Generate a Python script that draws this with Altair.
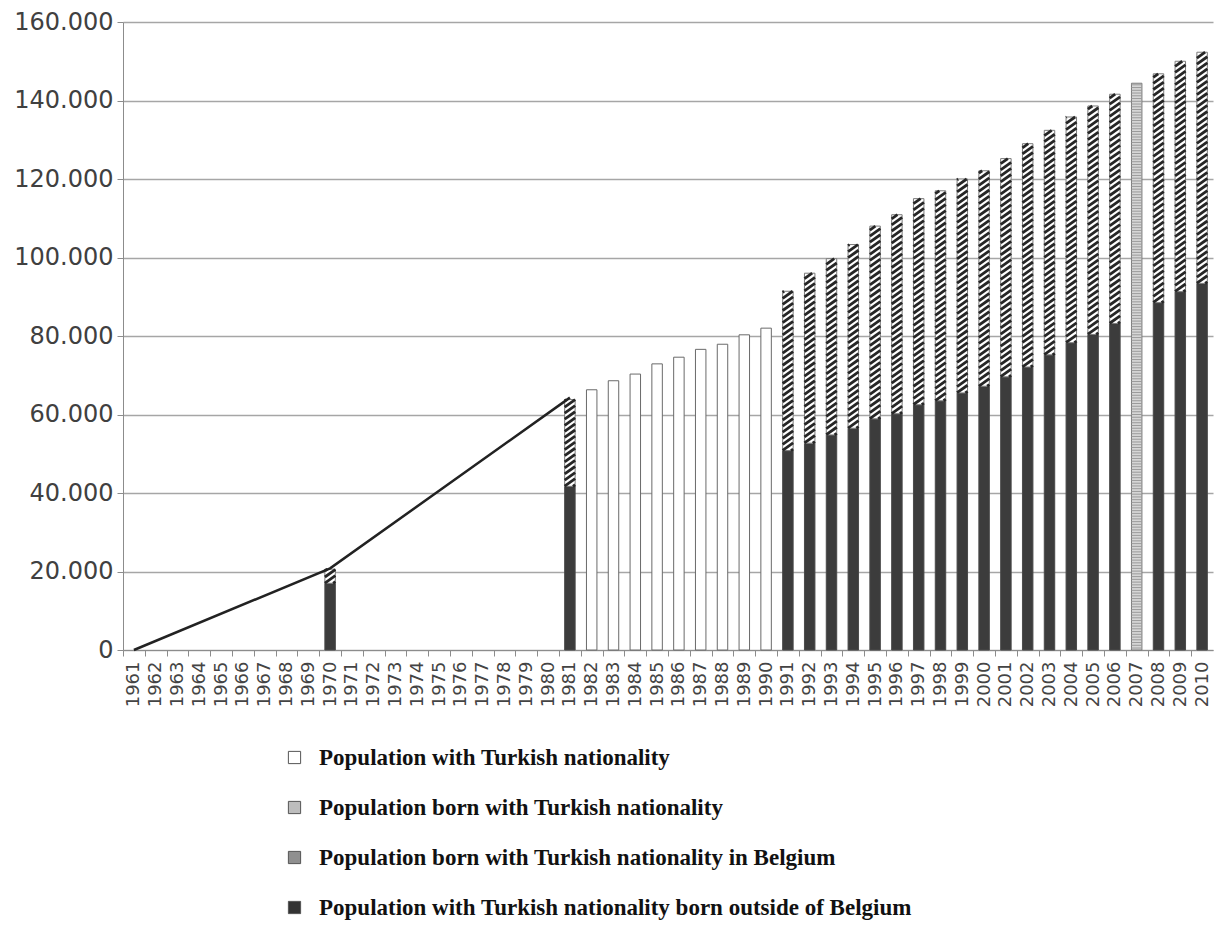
import altair as alt
import pandas as pd
import numpy as np

# ---------------- data ----------------
years = list(range(1961, 2011))

line_years = [1961, 1970, 1981]
line_values = [0, 20800, 64300]

seg_years = [1970, 1981, 1991, 1992, 1993, 1994, 1995, 1996, 1997, 1998, 1999,
             2000, 2001, 2002, 2003, 2004, 2005, 2006, 2008, 2009, 2010]
outside_values = [17000, 41700, 50800, 52700, 54800, 56500, 58900, 60200, 62500,
                  63500, 65500, 67200, 69600, 72100, 75200, 78300, 80400, 83200,
                  88500, 91300, 93400]
total_values = [20600, 63800, 91400, 96000, 99700, 103300, 108000, 110900, 115000,
                117000, 120000, 122100, 125200, 129000, 132400, 135800, 138600,
                141600, 146800, 150000, 152300]

nat_years = list(range(1982, 1991))
nat_values = [66300, 68600, 70300, 72900, 74600, 76600, 77900, 80300, 82000]

born_years = [2007]
born_values = [144400]

legend_labels = [
    "Population with Turkish nationality",
    "Population born with Turkish nationality",
    "Population born with Turkish nationality in Belgium",
    "Population with Turkish nationality born outside of Belgium",
]
y_ticks = list(range(0, 160001, 20000))

# ---------------- tables ----------------
HW = 0.24  # half bar width in years
dark_df = pd.DataFrame({"year": seg_years, "lo": 0, "hi": outside_values})
hatch_df = pd.DataFrame({"year": seg_years, "lo": outside_values, "hi": total_values})
nat_df = pd.DataFrame({"year": nat_years, "lo": 0, "hi": nat_values})
born_df = pd.DataFrame({"year": born_years, "lo": 0, "hi": born_values})
line_df = pd.DataFrame({"year": line_years, "value": line_values})

# diagonal hatch stripes derived from the hatched segments
PERIOD, RISE = 1550.0, 1900.0
rows = []
for yr, lo, hi in zip(seg_years, outside_values, total_values):
    for v in np.arange(lo - RISE + 400, hi, PERIOD):
        t0 = max(0.0, (lo - v) / RISE)
        t1 = min(1.0, (hi - v) / RISE)
        if t1 > t0:
            rows.append({"x0": yr - HW + 2 * HW * t0, "x1": yr - HW + 2 * HW * t1,
                         "y0": v + RISE * t0, "y1": v + RISE * t1})
stripe_df = pd.DataFrame(rows)

# fine texture for the "born with Turkish nationality" bar
tex_rows = []
for yr, top in zip(born_years, born_values):
    for v in np.arange(500, top, 700):
        tex_rows.append({"x0": yr - HW, "x1": yr + HW, "y0": v})
tex_df = pd.DataFrame(tex_rows)

legend_df = pd.DataFrame({"label": legend_labels, "year": 1961, "value": 0})

# ---------------- scales / axes ----------------
band_px = 1090 / 50.0
xscale = alt.Scale(domain=[1960.5, 2010.5], nice=False, zero=False)
yscale = alt.Scale(domain=[0, 160000], nice=False)

xaxis = alt.Axis(values=years, format="d", labelAngle=-90, title=None, grid=False,
                 tickOffset=-band_px / 2, labelOffset=band_px / 2,
                 labelFont="DejaVu Sans", labelFontSize=18, labelColor="#444444",
                 domainColor="#8c8c8c", tickColor="#8c8c8c", tickSize=6,
                 labelPadding=5)
yaxis = alt.Axis(values=y_ticks, title=None, grid=True, gridColor="#a6a6a6",
                 gridWidth=1.5, domainColor="#8c8c8c", tickColor="#8c8c8c",
                 tickSize=6, labelFont="DejaVu Sans", labelFontSize=24,
                 labelColor="#404040", labelPadding=4,
                 labelExpr="replace(format(datum.value, ','), ',', '.')")


def rects(df, fill, stroke="#6a6a6a"):
    return alt.Chart(df).transform_calculate(
        x0=f"datum.year - {HW}", x1=f"datum.year + {HW}"
    ).mark_rect(fill=fill, stroke=stroke, strokeWidth=1).encode(
        x=alt.X("x0:Q", scale=xscale, axis=xaxis),
        x2="x1:Q",
        y=alt.Y("lo:Q", scale=yscale, axis=yaxis),
        y2="hi:Q",
    )


dark = rects(dark_df, "#3c3c3c", "#4a4a4a")
hatch_base = rects(hatch_df, "white", "#7a7a7a")
nat = rects(nat_df, "white", "#6a6a6a")
born = rects(born_df, "#d6d6d6", "#7a7a7a")

stripes = alt.Chart(stripe_df).mark_rule(color="#262626", strokeWidth=2.8, strokeCap="butt").encode(
    x=alt.X("x0:Q", scale=xscale, axis=xaxis), x2="x1:Q",
    y=alt.Y("y0:Q", scale=yscale, axis=yaxis), y2="y1:Q",
)

texture = alt.Chart(tex_df).mark_rule(color="#9a9a9a", strokeWidth=1).encode(
    x=alt.X("x0:Q", scale=xscale, axis=xaxis), x2="x1:Q",
    y=alt.Y("y0:Q", scale=yscale, axis=yaxis),
)

line = alt.Chart(line_df).mark_line(color="#222222", strokeWidth=2.5).encode(
    x=alt.X("year:Q", scale=xscale, axis=xaxis),
    y=alt.Y("value:Q", scale=yscale, axis=yaxis),
)

legend_layer = alt.Chart(legend_df).mark_square(opacity=0, size=0).encode(
    x=alt.X("year:Q", scale=xscale, axis=xaxis),
    y=alt.Y("value:Q", scale=yscale, axis=yaxis),
    color=alt.Color("label:N",
                    scale=alt.Scale(domain=legend_labels,
                                    range=["white", "#bdbdbd", "#8f8f8f", "#333333"]),
                    legend=alt.Legend(orient="none", legendX=160, legendY=724,
                                      title=None, symbolType="square", symbolSize=150,
                                      symbolStrokeColor="#555555", symbolStrokeWidth=1,
                                      symbolOpacity=1, labelFont="Liberation Serif",
                                      labelFontWeight="bold", labelFontSize=23,
                                      labelColor="#111111", labelOffset=13,
                                      rowPadding=26, labelLimit=900, padding=0)),
)

chart = alt.layer(
    dark, hatch_base, stripes, nat, born, texture, line, legend_layer
).properties(
    width=1090, height=628,
    autosize=alt.AutoSizeParams(type="none"),
    padding={"left": 115, "top": 14, "right": 3, "bottom": 272},
    background="white",
).configure_view(stroke=None)

chart.save("out.html", embed_options={"renderer": "svg", "actions": False})
